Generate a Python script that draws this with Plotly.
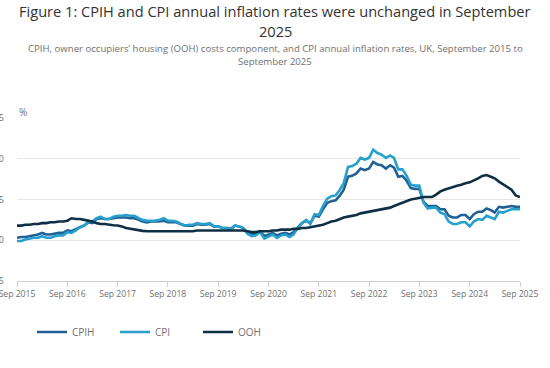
import plotly.graph_objects as go
import pandas as pd

dates = pd.date_range("2015-09-01", "2025-09-01", freq="MS")

cpih = [
    0.3, 0.4, 0.4, 0.5,
    0.6, 0.7, 0.9, 0.7, 0.7, 0.8, 0.9, 0.9, 1.2, 1.1, 1.4, 1.6,
    1.8, 2.2, 2.1, 2.6, 2.7, 2.6, 2.6, 2.7, 2.8, 2.8, 2.8, 2.7,
    2.7, 2.5, 2.3, 2.2, 2.3, 2.3, 2.3, 2.4, 2.2, 2.2, 2.2, 2.0,
    1.8, 1.8, 1.8, 2.0, 1.9, 1.9, 2.0, 1.7, 1.7, 1.5, 1.5, 1.4,
    1.8, 1.7, 1.5, 0.9, 0.7, 0.8, 1.1, 0.5, 0.7, 0.9, 0.6, 0.8,
    0.9, 0.7, 1.0, 1.6, 2.1, 2.4, 2.1, 3.0, 2.9, 3.8, 4.6, 4.8,
    4.9, 5.5, 6.2, 7.8, 7.9, 8.2, 8.8, 8.6, 8.8, 9.6, 9.3, 9.2,
    8.8, 9.2, 8.9, 7.8, 7.9, 7.3, 6.4, 6.3, 6.3, 4.7, 4.2, 4.2,
    4.2, 3.8, 3.8, 3.0, 2.8, 2.8, 3.1, 3.1, 2.6, 3.2, 3.5, 3.5,
    3.9, 3.7, 3.4, 4.1, 4.0, 4.1, 4.2, 4.1, 4.1,
]

cpi = [
    -0.1, -0.1, 0.1, 0.2,
    0.3, 0.3, 0.5, 0.3, 0.3, 0.5, 0.6, 0.6, 1.0, 0.9, 1.2, 1.6,
    1.8, 2.3, 2.3, 2.7, 2.9, 2.6, 2.6, 2.9, 3.0, 3.0, 3.1, 3.0,
    3.0, 2.7, 2.5, 2.4, 2.4, 2.4, 2.5, 2.7, 2.4, 2.4, 2.3, 2.1,
    1.8, 1.9, 1.9, 2.1, 2.0, 2.0, 2.1, 1.7, 1.7, 1.5, 1.5, 1.3,
    1.8, 1.7, 1.5, 0.8, 0.5, 0.6, 1.0, 0.2, 0.5, 0.7, 0.3, 0.6,
    0.7, 0.4, 0.7, 1.5, 2.1, 2.5, 2.0, 3.2, 3.1, 4.2, 5.1, 5.4,
    5.5, 6.2, 7.0, 9.0, 9.1, 9.4, 10.1, 9.9, 10.1, 11.1, 10.7, 10.5,
    10.1, 10.4, 10.1, 8.7, 8.7, 7.9, 6.8, 6.7, 6.7, 4.6, 3.9, 4.0,
    4.0, 3.4, 3.2, 2.3, 2.0, 2.0, 2.2, 2.2, 1.7, 2.3, 2.6, 2.5,
    3.0, 2.8, 2.6, 3.5, 3.4, 3.6, 3.8, 3.8, 3.8,
]

ooh = [
    1.8, 1.8, 1.9, 1.9,
    2.0, 2.0, 2.1, 2.1, 2.2, 2.2, 2.3, 2.3, 2.4, 2.7, 2.6, 2.6,
    2.5, 2.4, 2.3, 2.1, 2.0, 2.0, 1.9, 1.85, 1.8, 1.7, 1.5, 1.4,
    1.3, 1.2, 1.15, 1.1, 1.1, 1.1, 1.1, 1.1, 1.1, 1.1, 1.1, 1.1,
    1.1, 1.1, 1.1, 1.2, 1.2, 1.2, 1.2, 1.2, 1.2, 1.2, 1.2, 1.2,
    1.2, 1.2, 1.2, 1.1, 1.0, 1.0, 1.1, 1.1, 1.1, 1.2, 1.2, 1.3,
    1.3, 1.3, 1.4, 1.4, 1.5, 1.5, 1.6, 1.7, 1.8, 1.9, 2.1, 2.3,
    2.4, 2.6, 2.8, 2.9, 3.0, 3.1, 3.3, 3.4, 3.5, 3.6, 3.7, 3.8,
    3.9, 4.0, 4.2, 4.4, 4.6, 4.8, 5.0, 5.1, 5.2, 5.3, 5.3, 5.3,
    5.6, 6.0, 6.2, 6.4, 6.5, 6.7, 6.8, 7.0, 7.1, 7.3, 7.6, 7.9,
    8.0, 7.8, 7.6, 7.2, 6.9, 6.6, 6.2, 5.5, 5.3,
]

series_names = ["CPIH", "CPI", "OOH"]
series_colors = ["#206095", "#27a0cc", "#0f2f45"]
y_ticks = [-5, 0, 5, 10, 15]

title_lines = ["Figure 1: CPIH and CPI annual inflation rates were unchanged in September", "2025"]
subtitle_lines = ["CPIH, owner occupiers’ housing (OOH) costs component, and CPI annual inflation rates, UK, September 2015 to",
                  "September 2025"]

fig = go.Figure()
for name, vals, col in zip(series_names, [cpih, cpi, ooh], series_colors):
    fig.add_trace(go.Scatter(x=dates, y=vals, name=name, mode="lines",
                             line=dict(color=col, width=2.6)))

font = "Open Sans, Liberation Sans, sans-serif"
L, TOP, BOT, W = 17, 118, 281, 503


def px(xp):
    return (xp - L) / W


def py(yp):
    return (BOT - yp) / (BOT - TOP)


annots = []
for txt, yc in zip(title_lines, [11, 31]):
    annots.append(dict(text=txt, xref="paper", yref="paper", x=px(275), y=py(yc),
                       xanchor="center", yanchor="middle", showarrow=False, borderpad=0,
                       font=dict(family=font, size=14.6, color="#333333")))
for txt, yc in zip(subtitle_lines, [48, 61]):
    annots.append(dict(text=txt, xref="paper", yref="paper", x=px(275), y=py(yc),
                       xanchor="center", yanchor="middle", showarrow=False, borderpad=0,
                       font=dict(family=font, size=9.6, color="#707070")))
annots.append(dict(text="%", xref="paper", yref="paper", x=px(17), y=py(112),
                   xanchor="left", yanchor="middle", showarrow=False,
                   font=dict(size=10, color="#707070")))

fig.update_layout(
    width=550, height=368,
    margin=dict(l=L, r=550 - L - W, t=TOP, b=368 - BOT),
    paper_bgcolor="white", plot_bgcolor="white",
    font=dict(family=font, size=10, color="#707070"),
    showlegend=True,
    legend=dict(orientation="h", x=px(32), xanchor="left", y=py(332), yanchor="middle",
                font=dict(size=10, color="#707070"), traceorder="normal",
                entrywidth=38),
    hovermode=False,
    annotations=annots,
)

fig.update_xaxes(
    type="date", range=[dates[0], dates[-1]], automargin=False,
    tick0="2015-09-01", dtick="M12", tickformat="%b %Y",
    ticklabeloverflow="allow",
    showgrid=False, showline=True, linecolor="#d0d0d0", linewidth=1,
    ticks="outside", ticklen=5, tickcolor="#d0d0d0",
    tickfont=dict(size=8.6, color="#707070"), zeroline=False,
)
fig.update_yaxes(
    range=[-5, 15], tickvals=y_ticks, ticktext=[str(v) for v in y_ticks],
    automargin=False,
    showgrid=True, gridcolor="#e6e6e6", gridwidth=1, zeroline=False,
    showline=False, ticks="", ticklabelstandoff=12,
    tickfont=dict(size=9, color="#707070"),
)

fig.write_html("out.html", config={"displayModeBar": False},
               post_script="document.body.style.margin='0';document.body.style.overflow='hidden';")
